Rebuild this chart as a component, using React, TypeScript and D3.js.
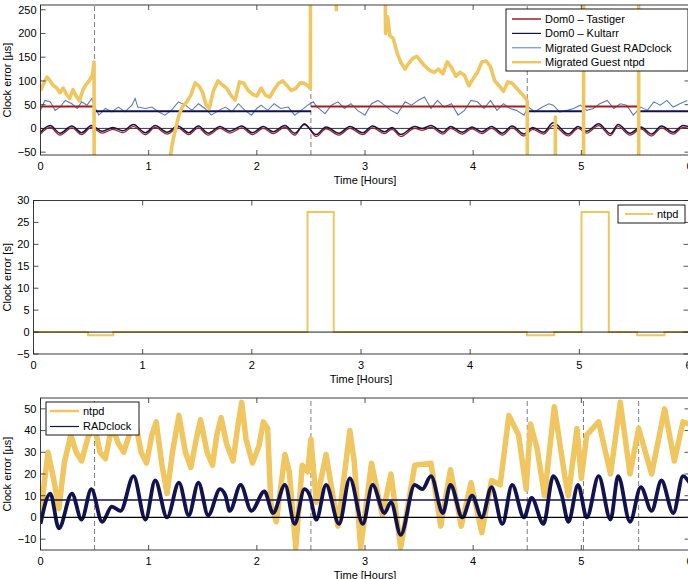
import React from "react";
import * as d3 from "d3";

const W = 688;
const H = 579;
const FONT = "'Liberation Sans', Arial, Helvetica, sans-serif";
const YELLOW = "#EFC660";
const NAVY = "#12124F";
const RED = "#A11F1F";
const STEEL = "#5B7DB3";
const DASH = "#7F7F7F";

// ---- shared ----
const hourTicks = [0, 1, 2, 3, 4, 5, 6];
const migrations = [0.5, 2.5, 4.5, 5.02, 5.53];

// ---- panel 1 (µs) ----
const p1Ticks = [-50, 0, 50, 100, 150, 200, 250];
// ntpd in the migrated guest, ±1000 = off the scale
const ntpdT1 = [0, 0.03, 0.06, 0.09, 0.12, 0.15, 0.18, 0.21, 0.24, 0.27, 0.3, 0.33, 0.36, 0.39, 0.42, 0.45, 0.48, 0.495, 0.5,
  1.19, 1.2, 1.22, 1.25, 1.28, 1.31, 1.35, 1.39, 1.43, 1.47, 1.5, 1.53, 1.56, 1.6, 1.64, 1.68, 1.72, 1.76, 1.8, 1.84, 1.88, 1.92, 1.96,
  2.0, 2.04, 2.08, 2.12, 2.16, 2.2, 2.24, 2.28, 2.32, 2.36, 2.4, 2.44, 2.48, 2.495, 2.5, 2.73, 2.735, 2.74,
  3.17, 3.19, 3.21, 3.23, 3.26, 3.3, 3.33, 3.37, 3.4, 3.44, 3.48, 3.52, 3.56, 3.6, 3.64, 3.68, 3.72, 3.76, 3.8, 3.84, 3.88, 3.92, 3.96,
  4.0, 4.04, 4.08, 4.12, 4.16, 4.2, 4.24, 4.28, 4.32, 4.36, 4.4, 4.44, 4.48, 4.5, 4.505, 4.755, 4.76, 4.765, 5.02, 5.021, 5.53, 5.531, 6];
const ntpdV1 = [80, 95, 108, 100, 90, 85, 75, 85, 72, 63, 82, 68, 58, 80, 92, 100, 112, 140, -1000,
  -1000, -60, -30, 0, 28, 45, 55, 70, 96, 88, 75, 50, 42, 80, 100, 92, 85, 70, 60, 98, 95, 80, 72,
  68, 85, 70, 66, 82, 95, 100, 90, 80, 84, 96, 95, 88, 84, 1000, 1000, 250, 1000,
  1000, 200, 235, 195, 190, 157, 140, 125, 136, 147, 152, 140, 130, 122, 118, 125, 115, 140, 128, 110, 118, 112, 90,
  105, 118, 140, 142, 130, 100, 90, 78, 98, 95, 85, 75, 65, 58, -1000, -1000, 24, -1000, -1000, 1000, 1000, -1000, -1000];
// migrated guest RADclock
const guestT = [0, 0.04, 0.09, 0.135, 0.18, 0.23, 0.29, 0.34, 0.38, 0.43, 0.475, 0.5, 0.54, 0.6, 0.66, 0.72, 0.78, 0.845, 0.875, 0.9,
  0.97, 1.03, 1.09, 1.15, 1.21, 1.275, 1.34, 1.4, 1.46, 1.52, 1.58, 1.65, 1.71, 1.77, 1.83, 1.89, 1.95, 2.0, 2.04, 2.1,
  2.16, 2.22, 2.29, 2.35, 2.41, 2.47, 2.52, 2.56, 2.63, 2.69, 2.75, 2.81, 2.87, 2.93, 3.0, 3.06, 3.12, 3.18, 3.24, 3.3,
  3.37, 3.43, 3.49, 3.55, 3.61, 3.67, 3.73, 3.8, 3.86, 3.92, 3.98, 4.04, 4.1, 4.16, 4.22, 4.28, 4.34, 4.4, 4.47, 4.51,
  4.57, 4.64, 4.7, 4.74, 4.8, 4.87, 4.93, 4.99, 5.05, 5.11, 5.17, 5.24, 5.3, 5.36, 5.42, 5.48, 5.55, 5.61, 5.67, 5.73,
  5.79, 5.85, 5.91, 5.98];
const guestV = [38, 59, 56, 38, 45, 59, 52, 42, 56, 49, 63, 45, 28, 42, 35, 45, 35, 49, 63, 45,
  42, 45, 35, 28, 38, 56, 49, 38, 52, 42, 28, 38, 45, 35, 52, 38, 28, 42, 49, 38,
  52, 42, 45, 28, 38, 49, 56, 45, 31, 49, 56, 42, 52, 38, 28, 52, 59, 49, 38, 31,
  56, 49, 59, 66, 42, 59, 45, 52, 28, 38, 59, 56, 42, 59, 38, 52, 42, 38, 28, 45,
  35, 45, 52, 49, 35, 38, 42, 49, 38, 42, 52, 59, 42, 52, 49, 28, 45, 38, 56, 49,
  59, 45, 52, 59];
// Dom0 clocks, read at the turning points of the wobble
const waveT = [0.0, 0.09, 0.18, 0.29, 0.38, 0.47, 0.57, 0.67, 0.76, 0.86, 0.97, 1.06, 1.17, 1.27, 1.37, 1.46, 1.55, 1.66, 1.75, 1.86,
  1.96, 2.06, 2.15, 2.26, 2.35, 2.44, 2.55, 2.64, 2.76, 2.86, 2.98, 3.07, 3.18, 3.25, 3.33, 3.46, 3.53, 3.61, 3.72, 3.79,
  3.9, 3.99, 4.08, 4.17, 4.27, 4.36, 4.47, 4.55, 4.65, 4.74, 4.88, 4.97, 5.05, 5.16, 5.27, 5.34, 5.45, 5.55, 5.65, 5.74,
  5.85, 5.94, 6.0];
const kultarr = [-8, 6, -10, 5, -9, 6, -6, 2, -5, 8, -9, 6, -8, 5, -9, 5, -10, 4, -6, 5,
  -9, 4, -7, 6, -10, 8, -13, 3, -10, 4, -9, 5, -7, 2, -13, 4, 0, 6, -8, 4,
  -8, 3, -7, 4, -10, 5, -12, 2, -8, 12, -12, 4, -6, 10, -11, 8, -10, 3, -12, 5,
  -8, 6, 3];
const tastiger = [-12, 2, -14, 1, -13, 2, -10, -2, -9, 4, -13, 2, -12, 1, -13, 1, -14, 0, -10, 1,
  -13, 0, -11, 2, -14, 10, -17, -1, -14, 0, -13, 1, -11, -2, -17, 0, -4, 2, -12, 0,
  -12, -1, -11, 0, -14, 1, -16, -2, -12, 6, -16, 0, -10, 6, -15, 4, -14, -1, -16, 1,
  -12, 2, -1];
// host offset segments: [start, end, host]
const hostStart = [0, 0.5, 2.5, 4.5, 5.02, 5.53];
const hostEnd = [0.5, 2.5, 4.5, 5.02, 5.53, 6];
const hostName = ["T", "K", "T", "K", "T", "K"];
const hostLevel = { T: 46, K: 36 };

// ---- panel 2 (s) ----
const p2Ticks = [-5, 0, 5, 10, 15, 20, 25, 30];
const stepT = [0, 0.5, 0.73, 2.51, 2.75, 4.52, 4.77, 5.02, 5.27, 5.53, 5.78, 6];
const stepV = [0, -0.75, 0, 27.4, 0, -0.75, 0, 27.4, 0, -0.75, 0, 0];

// ---- panel 3 (µs) ----
const p3Ticks = [-10, 0, 10, 20, 30, 40, 50];
const radT = [0, 0.09, 0.17, 0.29, 0.38, 0.47, 0.57, 0.66, 0.74, 0.86, 0.97, 1.06, 1.17, 1.28, 1.37, 1.46, 1.55, 1.66, 1.71, 1.75,
  1.85, 1.95, 2.07, 2.15, 2.26, 2.35, 2.44, 2.49, 2.55, 2.64, 2.76, 2.86, 2.98, 3.07, 3.18, 3.24, 3.33, 3.46, 3.53, 3.61,
  3.72, 3.79, 3.9, 3.99, 4.08, 4.17, 4.27, 4.36, 4.47, 4.54, 4.65, 4.74, 4.82, 4.88, 4.97, 5.05, 5.16, 5.27, 5.34, 5.45,
  5.55, 5.65, 5.74, 5.85, 5.94, 6.0];
const radV = [-3, 11, -5, 11, -1, 13, -2, 5, 3, 19, -1, 17, 0, 16, 1, 16, 1, 13, 10, 3,
  15, 3, 12, 2, 15, -3, 13, 10, -1, 15, -3, 18, -3, 15, 2, 7, -8, 15, 13, 19,
  2, 15, 0, 10, 0, 14, -3, 15, 0, 9, -3, 19, 10, -2, 15, 0, 19, -1, 19, -2,
  14, 3, 17, 2, 19, 16];
const ntpdT3 = [0, 0.04, 0.07, 0.12, 0.17, 0.22, 0.28, 0.33, 0.38, 0.44, 0.5, 0.55, 0.6, 0.66, 0.72, 0.77, 0.82, 0.87, 0.93, 0.98,
  1.03, 1.07, 1.12, 1.17, 1.22, 1.28, 1.34, 1.39, 1.44, 1.48, 1.54, 1.59, 1.63, 1.67, 1.72, 1.78, 1.83, 1.86, 1.9, 1.96,
  2.02, 2.06, 2.1, 2.13, 2.18, 2.26, 2.3, 2.36, 2.42, 2.47, 2.5, 2.55, 2.64, 2.75, 2.86, 2.9, 2.96, 3.06, 3.16, 3.24,
  3.33, 3.46, 3.61, 3.7, 3.79, 3.89, 3.98, 4.08, 4.17, 4.25, 4.33, 4.42, 4.49, 4.53, 4.59, 4.66, 4.75, 4.85, 4.88, 4.96,
  5.0, 5.05, 5.16, 5.27, 5.36, 5.45, 5.53, 5.65, 5.77, 5.86, 5.94, 6.0];
const ntpdV3 = [0, 18, 30, 18, 4, 25, 38, 30, 26, 37, 42, 30, 27, 42, 34, 30, 38, 46, 30, 25,
  38, 44, 25, 11, 30, 47, 30, 23, 36, 45, 30, 24, 38, 46, 34, 26, 44, 53, 36, 25,
  33, 44, 41, 6, -2, 29, 21, -14, 24, 21, 36, 7, 29, -4, 40, 26, -14, 25, 1, 20,
  -14, 24, 25, -4, 22, -4, 16, -7, 17, 15, 47, 38, 13, 43, 32, 10, 51, 18, 10, 41,
  18, 38, 44, 20, 53, 20, 41, 20, 50, 26, 44, 43];

const fmt = (t: number) => (t < 0 ? "\u2212" + Math.abs(t) : String(t));

function Frame({ x, y, yTicks, yLabel }: { x: any; y: any; yTicks: number[]; yLabel: string }) {
  const [x0, x1] = x.range();
  const [yb, yt] = y.range();
  return (
    <g fontFamily={FONT} fontSize={11} fill="#000">
      <rect x={x0} y={yt} width={x1 - x0} height={yb - yt} fill="none" stroke="#262626" strokeWidth={0.9} />
      {hourTicks.map((t) => (
        <g key={"x" + t}>
          <line x1={x(t)} x2={x(t)} y1={yb} y2={yb - 5} stroke="#262626" strokeWidth={0.8} />
          <line x1={x(t)} x2={x(t)} y1={yt} y2={yt + 5} stroke="#262626" strokeWidth={0.8} />
          <text x={x(t)} y={yb + 15} textAnchor="middle">{t}</text>
        </g>
      ))}
      {yTicks.map((t) => (
        <g key={"y" + t}>
          <line x1={x0} x2={x0 + 5} y1={y(t)} y2={y(t)} stroke="#262626" strokeWidth={0.8} />
          <line x1={x1} x2={x1 - 5} y1={y(t)} y2={y(t)} stroke="#262626" strokeWidth={0.8} />
          <text x={x0 - 4} y={y(t)} dy="0.35em" textAnchor="end">{fmt(t)}</text>
        </g>
      ))}
      <text x={(x0 + x1) / 2} y={yb + 29} textAnchor="middle">Time [Hours]</text>
      <text transform={`translate(11,${(yb + yt) / 2}) rotate(-90)`} textAnchor="middle">{yLabel}</text>
    </g>
  );
}

function path(T: number[], V: number[], x: any, y: any, curve: any = d3.curveLinear) {
  return d3.line<number>().x((_, i) => x(T[i])).y((d) => y(d)).curve(curve)(V) || "";
}

export default function App() {
  const x1 = d3.scaleLinear().domain([0, 6]).range([40.5, 689.5]);
  const y1 = d3.scaleLinear().domain([-56, 260]).range([155, 5]);
  const x2 = d3.scaleLinear().domain([0, 6]).range([33.5, 688.5]);
  const y2 = d3.scaleLinear().domain([-5, 30]).range([354, 200.5]);
  const x3 = d3.scaleLinear().domain([0, 6]).range([40.5, 689.5]);
  const y3 = d3.scaleLinear().domain([-15, 55]).range([550, 398]);

  const clip = (id: string, x: any, y: any) => (
    <clipPath id={id}>
      <rect x={x.range()[0]} y={y.range()[1]} width={x.range()[1] - x.range()[0]} height={y.range()[0] - y.range()[1]} />
    </clipPath>
  );

  const p1Legend = [
    { label: "Dom0 \u2013 Tastiger", color: RED, w: 1.5 },
    { label: "Dom0 \u2013 Kultarr", color: NAVY, w: 1.2 },
    { label: "Migrated Guest RADclock", color: STEEL, w: 1 },
    { label: "Migrated Guest ntpd", color: YELLOW, w: 2.5 },
  ];

  return (
    <svg width={W} height={H} style={{ position: "absolute", left: 0, top: 0, background: "#fff" }}>
      <defs>
        {clip("c1", x1, y1)}
        {clip("c2", x2, y2)}
        {clip("c3", x3, y3)}
      </defs>

      {/* panel 1 */}
      <g clipPath="url(#c1)">
        {migrations.map((m) => (
          <line key={m} x1={x1(m)} x2={x1(m)} y1={y1.range()[0]} y2={y1.range()[1]} stroke={DASH} strokeWidth={1} strokeDasharray="5,3" />
        ))}
        <line x1={x1(0)} x2={x1(6)} y1={y1(0)} y2={y1(0)} stroke="#000" strokeWidth={0.8} />
        <path d={path(waveT, tastiger, x1, y1, d3.curveMonotoneX)} fill="none" stroke={RED} strokeWidth={1.2} />
        <path d={path(waveT, kultarr, x1, y1, d3.curveMonotoneX)} fill="none" stroke={NAVY} strokeWidth={1.5} />
        <path d={path(guestT, guestV, x1, y1)} fill="none" stroke={STEEL} strokeWidth={1.1} />
        {hostStart.map((s, i) => (
          <line key={i} x1={x1(s)} x2={x1(hostEnd[i])} y1={y1(hostLevel[hostName[i]])} y2={y1(hostLevel[hostName[i]])}
            stroke={hostName[i] === "T" ? RED : NAVY} strokeWidth={2} />
        ))}
        <path d={path(ntpdT1, ntpdV1, x1, y1)} fill="none" stroke={YELLOW} strokeWidth={3.6} strokeLinejoin="round" />
      </g>
      <Frame x={x1} y={y1} yTicks={p1Ticks} yLabel="Clock error [µs]" />
      <g fontFamily={FONT} fontSize={11}>
        <rect x={506} y={9} width={182} height={62} fill="#fff" stroke="#000" strokeWidth={0.9} />
        {p1Legend.map((e, i) => (
          <g key={e.label}>
            <line x1={512} x2={541} y1={19 + i * 14.4} y2={19 + i * 14.4} stroke={e.color} strokeWidth={e.w} />
            <text x={545} y={19 + i * 14.4} dy="0.35em">{e.label}</text>
          </g>
        ))}
      </g>

      {/* panel 2 */}
      <g clipPath="url(#c2)">
        <path d={path(stepT, stepV, x2, y2, d3.curveStepAfter)} fill="none" stroke={YELLOW} strokeWidth={2} />
        <line x1={x2(0)} x2={x2(6)} y1={y2(0)} y2={y2(0)} stroke="#000" strokeWidth={0.9} />
      </g>
      <Frame x={x2} y={y2} yTicks={p2Ticks} yLabel="Clock error [s]" />
      <g fontFamily={FONT} fontSize={11}>
        <rect x={618} y={205} width={67} height={18} fill="#fff" stroke="#000" strokeWidth={0.9} />
        <line x1={625} x2={653} y1={214} y2={214} stroke={YELLOW} strokeWidth={2} />
        <text x={657} y={214} dy="0.35em">ntpd</text>
      </g>

      {/* panel 3 */}
      <g clipPath="url(#c3)">
        {migrations.map((m) => (
          <line key={m} x1={x3(m)} x2={x3(m)} y1={y3.range()[0]} y2={y3.range()[1]} stroke={DASH} strokeWidth={1} strokeDasharray="5,3" />
        ))}
        <path d={path(ntpdT3, ntpdV3, x3, y3)} fill="none" stroke={YELLOW} strokeWidth={5.5} strokeLinejoin="round" />
        <path d={path(radT, radV, x3, y3, d3.curveMonotoneX)} fill="none" stroke={NAVY} strokeWidth={3.8} strokeLinejoin="round" />
        <line x1={x3(0)} x2={x3(6)} y1={y3(0)} y2={y3(0)} stroke="#000" strokeWidth={1.2} />
        <line x1={x3(0)} x2={x3(6)} y1={y3(8)} y2={y3(8)} stroke={NAVY} strokeWidth={1.5} />
      </g>
      <Frame x={x3} y={y3} yTicks={p3Ticks} yLabel="Clock error [µs]" />
      <g fontFamily={FONT} fontSize={11}>
        <rect x={46} y={402} width={93} height={33} fill="#fff" stroke="#000" strokeWidth={0.9} />
        <line x1={50} x2={79} y1={411} y2={411} stroke={YELLOW} strokeWidth={2.5} />
        <text x={83} y={411} dy="0.35em">ntpd</text>
        <line x1={50} x2={79} y1={426.5} y2={426.5} stroke={NAVY} strokeWidth={1.2} />
        <text x={83} y={426.5} dy="0.35em">RADclock</text>
      </g>
    </svg>
  );
}
